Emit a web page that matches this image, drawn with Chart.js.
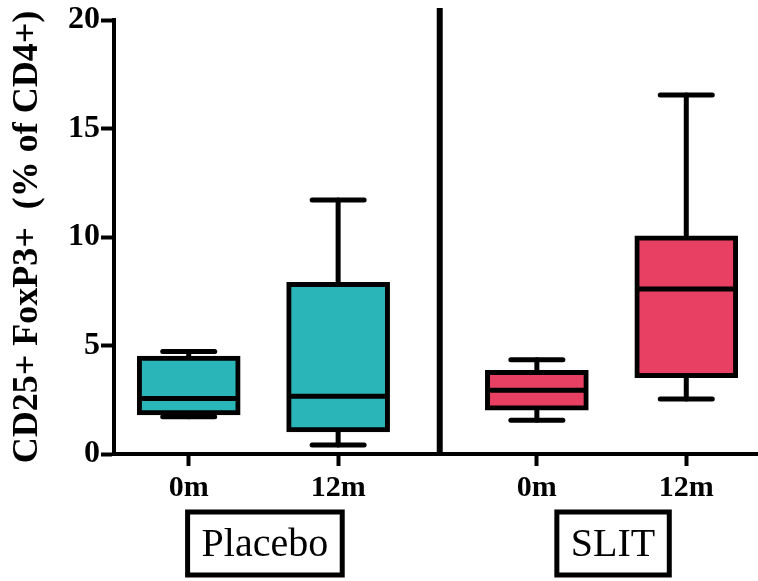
<!DOCTYPE html>
<html>
<head>
<meta charset="utf-8">
<script src="https://cdn.jsdelivr.net/npm/chart.js@4.4.1/dist/chart.umd.min.js"></script>
<style>
  html, body { margin: 0; padding: 0; background: #fff; }
  #wrap { width: 758px; height: 581px; }
</style>
</head>
<body>
<div id="wrap"><canvas id="chartBox"></canvas></div>
<script>
// data
const categories = ['0m', '12m', '0m', '12m']
const positions = [1, 2, 3.33, 4.33]
const groups = ['Placebo', 'SLIT']
const groupCenters = [1.51, 3.84]
const dividerAt = 2.68
const mins = [1.72, 0.41, 1.56, 2.53]
const q1s = [1.8, 1.02, 2.02, 3.52]
const medians = [2.56, 2.66, 2.94, 7.61]
const q3s = [4.52, 7.91, 3.86, 10.06]
const maxs = [4.73, 11.71, 4.35, 16.55]
const yTicks = [0, 5, 10, 15, 20]

const teal = '#2AB6B9'
const pink = '#E84063'
const colors = [teal, teal, pink, pink]
const serif = '"Liberation Serif", "Times New Roman", Tinos, "DejaVu Serif", serif'

// whiskers, medians, divider and group boxes
const boxExtras = {
    id: 'boxExtras',
    beforeDatasetsDraw(chart) {
        const { ctx, scales: { x, y } } = chart
        ctx.save()
        ctx.strokeStyle = '#000'
        ctx.lineWidth = 5
        ctx.lineCap = 'round'
        positions.forEach((p, i) => {
            const px = x.getPixelForValue(p)
            ctx.beginPath()
            ctx.moveTo(px, y.getPixelForValue(mins[i]))
            ctx.lineTo(px, y.getPixelForValue(maxs[i]))
            ctx.stroke()
            ;[mins[i], maxs[i]].forEach(v => {
                const py = y.getPixelForValue(v)
                ctx.beginPath()
                ctx.moveTo(px - 26, py)
                ctx.lineTo(px + 26, py)
                ctx.stroke()
            })
        })
        ctx.restore()
    },
    afterDatasetsDraw(chart) {
        const { ctx, chartArea, scales: { x, y } } = chart
        ctx.save()
        ctx.strokeStyle = '#000'
        ctx.lineWidth = 5
        positions.forEach((p, i) => {
            const px = x.getPixelForValue(p)
            const py = y.getPixelForValue(medians[i])
            ctx.beginPath()
            ctx.moveTo(px - 50, py)
            ctx.lineTo(px + 50, py)
            ctx.stroke()
        })
        // divider between groups
        const dx = x.getPixelForValue(dividerAt)
        ctx.lineWidth = 6
        ctx.beginPath()
        ctx.moveTo(dx, 8)
        ctx.lineTo(dx, chartArea.bottom)
        ctx.stroke()
        // boxed group labels
        ctx.font = '40px ' + serif
        ctx.textAlign = 'center'
        ctx.textBaseline = 'middle'
        ctx.fillStyle = '#000'
        ctx.lineWidth = 5
        groups.forEach((g, i) => {
            const cx = x.getPixelForValue(groupCenters[i])
            const w = ctx.measureText(g).width + 28
            ctx.strokeRect(cx - w / 2, 512, w, 63)
            ctx.fillText(g, cx, 545)
        })
        ctx.restore()
    }
}

new Chart(document.getElementById('chartBox'), {
    type: 'bar',
    data: {
        datasets: [{
            data: positions.map((p, i) => ({ x: p, y: [q1s[i], q3s[i]] })),
            backgroundColor: colors,
            borderColor: '#000',
            borderWidth: 5,
            borderSkipped: false,
            barThickness: 103
        }]
    },
    options: {
        responsive: true,
        maintainAspectRatio: false,
        animation: false,
        layout: { padding: { top: 18, right: 0, left: 0, bottom: 0 } },
        scales: {
            x: {
                type: 'linear',
                offset: false,
                min: 0.5,
                max: 4.81,
                afterBuildTicks: s => { s.ticks = positions.map(v => ({ value: v })) },
                afterFit: s => { s.height = 127; s.paddingLeft = 0; s.paddingRight = 0 },
                ticks: {
                    callback: (v, i) => categories[i],
                    color: '#000',
                    padding: 4,
                    font: { family: serif, size: 30, weight: 'bold' },
                    maxRotation: 0
                },
                grid: { offset: false, drawOnChartArea: false, tickLength: 12, tickWidth: 4, color: '#000' },
                border: { color: '#000', width: 4 }
            },
            y: {
                min: 0,
                max: 20,
                afterBuildTicks: s => { s.ticks = yTicks.map(v => ({ value: v })) },
                afterFit: s => { s.width = 114 },
                ticks: {
                    color: '#000',
                    padding: 1,
                    font: { family: serif, size: 32, weight: 'bold' }
                },
                grid: { drawOnChartArea: false, tickLength: 13, tickWidth: 4, color: '#000' },
                border: { color: '#000', width: 4 },
                title: {
                    display: true,
                    text: 'CD25+ FoxP3+  (% of CD4+)',
                    color: '#000',
                    padding: { top: 6, bottom: 0 },
                    font: { family: serif, size: 36, weight: 'bold' }
                }
            }
        },
        plugins: {
            legend: { display: false },
            tooltip: { enabled: false }
        }
    },
    plugins: [boxExtras]
})
</script>
</body>
</html>
